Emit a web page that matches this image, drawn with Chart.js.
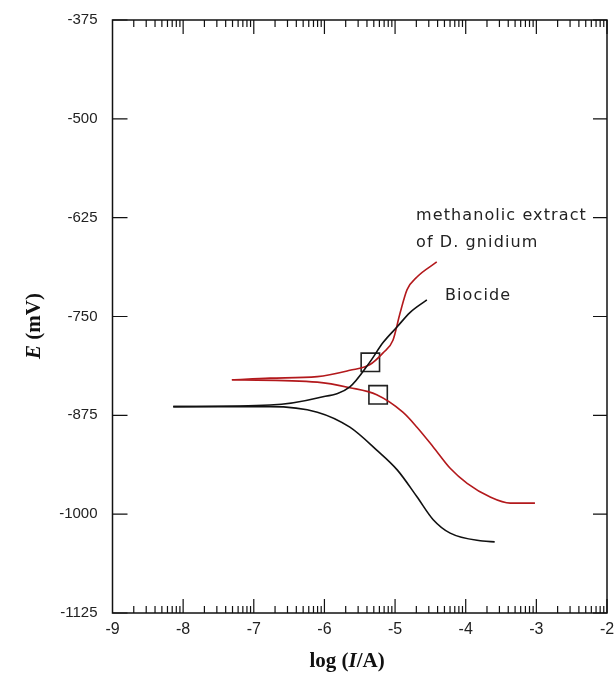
<!DOCTYPE html>
<html>
<head>
<meta charset="utf-8">
<script src="https://cdn.jsdelivr.net/npm/chart.js@4.4.1/dist/chart.umd.min.js"></script>
<style>
  html, body { margin: 0; padding: 0; background: #fff; overflow: hidden; }
  #wrap { width: 614px; height: 674px; position: relative; }
  canvas { display: block; }
</style>
</head>
<body>
<div id="wrap"><canvas id="tafelChart"></canvas></div>
<script>
// log(I/A) and E (mV)
var biocideAnodicX = [-8.14, -6.77, -6.10, -5.64, -5.36, -5.17, -4.97, -4.79, -4.55];
var biocideAnodicE = [-864, -862, -853, -839, -808, -783, -763, -745, -729];
var biocideCathodicX = [-8.14, -6.77, -6.10, -5.64, -5.26, -4.97, -4.69, -4.46, -4.22, -3.76, -3.59];
var biocideCathodicE = [-864, -864, -871, -890, -919, -944, -978, -1007, -1024, -1034, -1035];
var extractAnodicX = [-7.31, -6.77, -6.10, -5.64, -5.36, -5.17, -5.03, -4.93, -4.83, -4.69, -4.41];
var extractAnodicE = [-830, -828, -826, -818, -811, -796, -780, -746, -716, -700, -681];
var extractCathodicX = [-7.31, -6.10, -5.64, -5.26, -4.89, -4.69, -4.46, -4.22, -3.98, -3.66, -3.37, -3.02];
var extractCathodicE = [-830, -833, -840, -849, -871, -890, -915, -942, -961, -978, -986, -986];
// corrosion points (boxes)
var corrX = [-5.35, -5.24];
var corrE = [-808, -849];

var xTicks = [-9, -8, -7, -6, -5, -4, -3, -2];
var yTicks = [-1125, -1000, -875, -750, -625, -500, -375];

function pts(xs, ys) {
  return xs.map(function (x, i) { return { x: x, y: ys[i] }; });
}

var black = '#111111';
var red = '#b3191c';

function curve(label, xs, ys, color) {
  return {
    label: label,
    data: pts(xs, ys),
    showLine: true,
    borderColor: color,
    borderWidth: 1.6,
    pointRadius: 0,
    cubicInterpolationMode: 'monotone',
    fill: false
  };
}

// frame, inward ticks, titles, curve labels
var framePlugin = {
  id: 'frame',
  afterDraw: function (chart) {
    var ctx = chart.ctx;
    var a = chart.chartArea;
    var xs = chart.scales.x, ys = chart.scales.y;
    ctx.save();
    ctx.strokeStyle = '#111';
    ctx.lineWidth = 1.5;
    ctx.strokeRect(a.left, a.top, a.right - a.left, a.bottom - a.top);

    ctx.lineWidth = 1.2;
    ctx.beginPath();
    for (var d = -9; d < -2; d++) {
      for (var k = 2; k <= 10; k++) {
        var px = xs.getPixelForValue(d + Math.log10(k));
        var len = k === 10 ? 14 : 7;
        ctx.moveTo(px, a.bottom); ctx.lineTo(px, a.bottom - len);
        ctx.moveTo(px, a.top); ctx.lineTo(px, a.top + len);
      }
    }
    yTicks.forEach(function (t) {
      var py = ys.getPixelForValue(t);
      ctx.moveTo(a.left, py); ctx.lineTo(a.left + 15, py);
      ctx.moveTo(a.right, py); ctx.lineTo(a.right - 14, py);
    });
    ctx.stroke();

    // axis titles
    ctx.fillStyle = '#111';
    ctx.textBaseline = 'alphabetic';
    var it = 'italic bold 21px "Liberation Serif"';
    var bd = 'bold 21px "Liberation Serif"';
    var parts = [['log (', bd], ['I', it], ['/A)', bd]];
    var w = 0;
    parts.forEach(function (p) { ctx.font = p[1]; w += ctx.measureText(p[0]).width; });
    var x0 = 347 - w / 2;
    ctx.textAlign = 'left';
    parts.forEach(function (p) {
      ctx.font = p[1];
      ctx.fillText(p[0], x0, 667);
      x0 += ctx.measureText(p[0]).width;
    });

    ctx.save();
    ctx.translate(40, 326);
    ctx.rotate(-Math.PI / 2);
    var yparts = [['E', it], [' (mV)', bd]];
    w = 0;
    yparts.forEach(function (p) { ctx.font = p[1]; w += ctx.measureText(p[0]).width; });
    x0 = -w / 2;
    yparts.forEach(function (p) {
      ctx.font = p[1];
      ctx.fillText(p[0], x0, 0);
      x0 += ctx.measureText(p[0]).width;
    });
    ctx.restore();

    // curve labels
    ctx.font = '16px "DejaVu Sans"';
    ctx.letterSpacing = '1.1px';
    ctx.fillStyle = '#222';
    ctx.textBaseline = 'middle';
    ctx.fillText('methanolic extract', 416, 216);
    ctx.fillText('of D. gnidium', 416, 243);
    ctx.fillText('Biocide', 445, 296);
    ctx.restore();
  }
};

new Chart(document.getElementById('tafelChart'), {
  type: 'scatter',
  data: {
    datasets: [
      curve('Biocide anodic', biocideAnodicX, biocideAnodicE, black),
      curve('Biocide cathodic', biocideCathodicX, biocideCathodicE, black),
      curve('Extract anodic', extractAnodicX, extractAnodicE, red),
      curve('Extract cathodic', extractCathodicX, extractCathodicE, red),
      {
        label: 'Corrosion point',
        data: pts(corrX, corrE),
        pointStyle: 'rect',
        pointRadius: 13,
        pointBorderWidth: 1.6,
        pointBackgroundColor: 'rgba(0,0,0,0)',
        pointBorderColor: '#222',
        showLine: false
      }
    ]
  },
  options: {
    responsive: true,
    maintainAspectRatio: false,
    animation: false,
    layout: { autoPadding: false, padding: { top: 20, right: 7, left: 0, bottom: 0 } },
    plugins: {
      legend: { display: false },
      tooltip: { enabled: false }
    },
    scales: {
      x: {
        type: 'linear',
        min: -9,
        max: -2,
        afterBuildTicks: function (s) { s.ticks = xTicks.map(function (v) { return { value: v }; }); },
        afterFit: function (s) { s.height = 61; s.paddingLeft = 0; s.paddingRight = 0; },
        grid: { display: false, drawTicks: false },
        border: { display: false },
        ticks: {
          padding: 7,
          color: '#222',
          font: { family: '"Liberation Sans"', size: 16 },
          maxRotation: 0,
          callback: function (v) { return String(v); }
        }
      },
      y: {
        type: 'linear',
        min: -1125,
        max: -375,
        afterBuildTicks: function (s) { s.ticks = yTicks.map(function (v) { return { value: v }; }); },
        afterFit: function (s) { s.width = 112.5; s.paddingTop = 0; s.paddingBottom = 0; },
        grid: { display: false, drawTicks: false },
        border: { display: false },
        ticks: {
          padding: 15,
          color: '#222',
          font: { family: '"Liberation Sans"', size: 15 },
          callback: function (v) { return String(v); }
        }
      }
    }
  },
  plugins: [framePlugin]
});
</script>
</body>
</html>
